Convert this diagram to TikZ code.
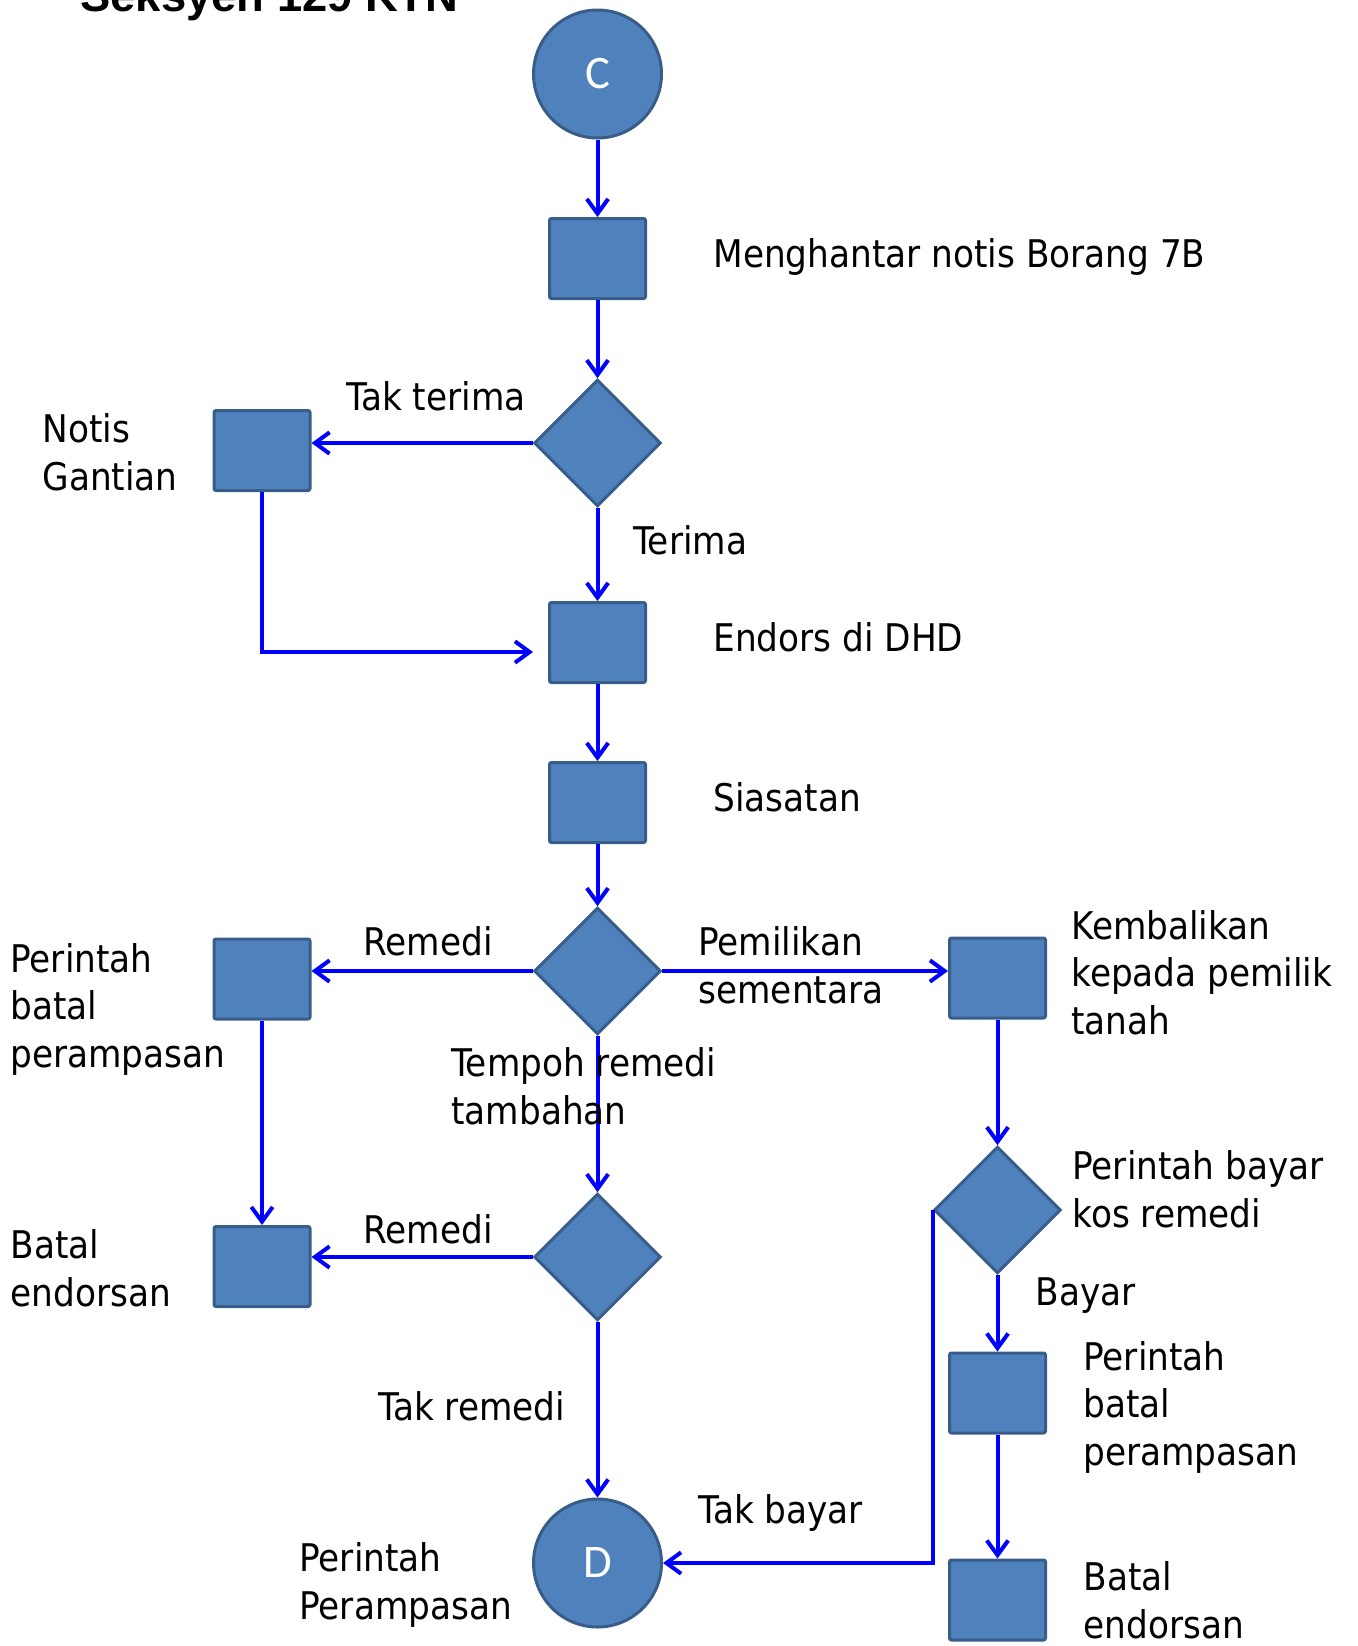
\documentclass[tikz,border=0pt]{standalone}
\usepackage{fontspec}
\setmainfont{DejaVu Sans Condensed}
\newfontfamily\termfont{Carlito}
\newfontfamily\titlefont{Liberation Sans}
\usetikzlibrary{shapes.geometric,arrows.meta}

\definecolor{shapefill}{RGB}{79,129,189}
\definecolor{shapeline}{RGB}{56,93,138}
\definecolor{flowline}{RGB}{0,0,255}

\tikzset{every picture/.style={line width=0.75pt}}
\tikzset{
  stepbox/.style={draw=shapeline, fill=shapefill, line width=2.25pt, rounded corners=1.5pt, minimum width=72pt, minimum height=60pt, inner sep=0pt},
  decide/.style={diamond, draw=shapeline, fill=shapefill, line width=2.25pt, minimum width=95pt, minimum height=95pt, inner sep=0pt},
  term/.style={circle, draw=shapeline, fill=shapefill, line width=2.25pt, minimum size=96pt, inner sep=0pt, text=white, font=\termfont\fontsize{35}{42}\selectfont},
  flow/.style={draw=flowline, line width=3pt, -{Straight Barb[length=11pt,width=16pt]}},
  lbl/.style={anchor=base west, inner sep=0pt, align=left, font=\fontsize{28.6}{35.5}\selectfont}
}

\begin{document}
\begin{tikzpicture}[x=0.75pt,y=0.75pt,yscale=-1,xscale=1]
		\useasboundingbox (0,0) rectangle (1357,1646);
		
		%Title, cut off at the top
		\node (title) [anchor=base west, inner sep=0pt, font=\titlefont\bfseries\fontsize{34}{40}\selectfont] at (80,11) {Seksyen 129 KTN};
		
		%Shape: Circle
		\node (c) [term] at (597.5,74) {C};
		%Shape: Rectangle
		\node (hantar) [stepbox] at (597.5,258.5) {};
		%Shape: Diamond
		\node (terimaq) [decide] at (597.5,443) {};
		%Shape: Rectangle
		\node (gantian) [stepbox] at (262,450.5) {};
		%Shape: Rectangle
		\node (endors) [stepbox] at (597.5,642.5) {};
		%Shape: Rectangle
		\node (siasat) [stepbox] at (597.5,802.5) {};
		%Shape: Diamond
		\node (remediq) [decide] at (597.5,971) {};
		%Shape: Rectangle
		\node (batalA) [stepbox] at (262,979) {};
		%Shape: Rectangle
		\node (kembali) [stepbox] at (997.5,978) {};
		%Shape: Diamond
		\node (tempohq) [decide] at (597.5,1257) {};
		%Shape: Rectangle
		\node (endorsA) [stepbox] at (262,1266.5) {};
		%Shape: Diamond
		\node (kosq) [decide] at (997.5,1210) {};
		%Shape: Rectangle
		\node (batalB) [stepbox] at (997.5,1393) {};
		%Shape: Rectangle
		\node (endorsB) [stepbox] at (997.5,1600) {};
		%Shape: Circle
		\node (d) [term] at (597.5,1563) {D};
		
		\coordinate (endin) at (533,652);
		
		\draw [flow] (c.south) -- (hantar.north);
		\draw [flow] (hantar.south) -- (terimaq.north);
		\draw [flow] (terimaq.west) -- (terimaq.west -| gantian.east);
		\draw [flow] (terimaq.south) -- (endors.north);
		\draw [flow] (gantian.south) |- (endin);
		\draw [flow] (endors.south) -- (siasat.north);
		\draw [flow] (siasat.south) -- (remediq.north);
		\draw [flow] (remediq.west) -- (remediq.west -| batalA.east);
		\draw [flow] (remediq.east) -- (remediq.east -| kembali.west);
		\draw [flow] (remediq.south) -- (tempohq.north);
		\draw [flow] (batalA.south) -- (endorsA.north);
		\draw [flow] (tempohq.west) -- (tempohq.west -| endorsA.east);
		\draw [flow] (tempohq.south) -- (d.north);
		\draw [flow] (kembali.south) -- (kosq.north);
		\draw [flow] (kosq.south) -- (batalB.north);
		\draw [flow] (batalB.south) -- (endorsB.north);
		\draw [flow] (kosq.west) |- (d.east);
		
		% multi-line labels sit on the baseline of their last line
		\node (lhantar) [lbl] at (713,267) {Menghantar notis Borang 7B};
		\node (ltakterima) [lbl] at (346,410) {Tak terima};
		\node (lgantian) [lbl] at (42,490) {Notis\\Gantian};
		\node (lterima) [lbl] at (633,554) {Terima};
		\node (lendors) [lbl] at (713,651) {Endors di DHD};
		\node (lsiasat) [lbl] at (713,811) {Siasatan};
		\node (lremediA) [lbl] at (363,955) {Remedi};
		\node (lbatalA) [lbl] at (10,1067) {Perintah\\batal\\perampasan};
		\node (lmilik) [lbl] at (698,1003) {Pemilikan\\sementara};
		\node (lkembali) [lbl] at (1071,1034) {Kembalikan\\kepada pemilik\\tanah};
		\node (ltempoh) [lbl] at (451,1124) {Tempoh remedi\\tambahan};
		\node (lendorsA) [lbl] at (10,1306) {Batal\\endorsan};
		\node (lremediB) [lbl] at (363,1243) {Remedi};
		\node (lkos) [lbl] at (1072,1227) {Perintah bayar\\kos remedi};
		\node (lbayar) [lbl] at (1035,1305) {Bayar};
		\node (lbatalB) [lbl] at (1083,1465) {Perintah\\batal\\perampasan};
		\node (lendorsB) [lbl] at (1083,1638) {Batal\\endorsan};
		\node (ltakremedi) [lbl] at (378,1420) {Tak remedi};
		\node (ltakbayar) [lbl] at (698,1523) {Tak bayar};
		\node (lrampas) [lbl] at (299,1619) {Perintah\\Perampasan};
		
	\end{tikzpicture}
\end{document}
